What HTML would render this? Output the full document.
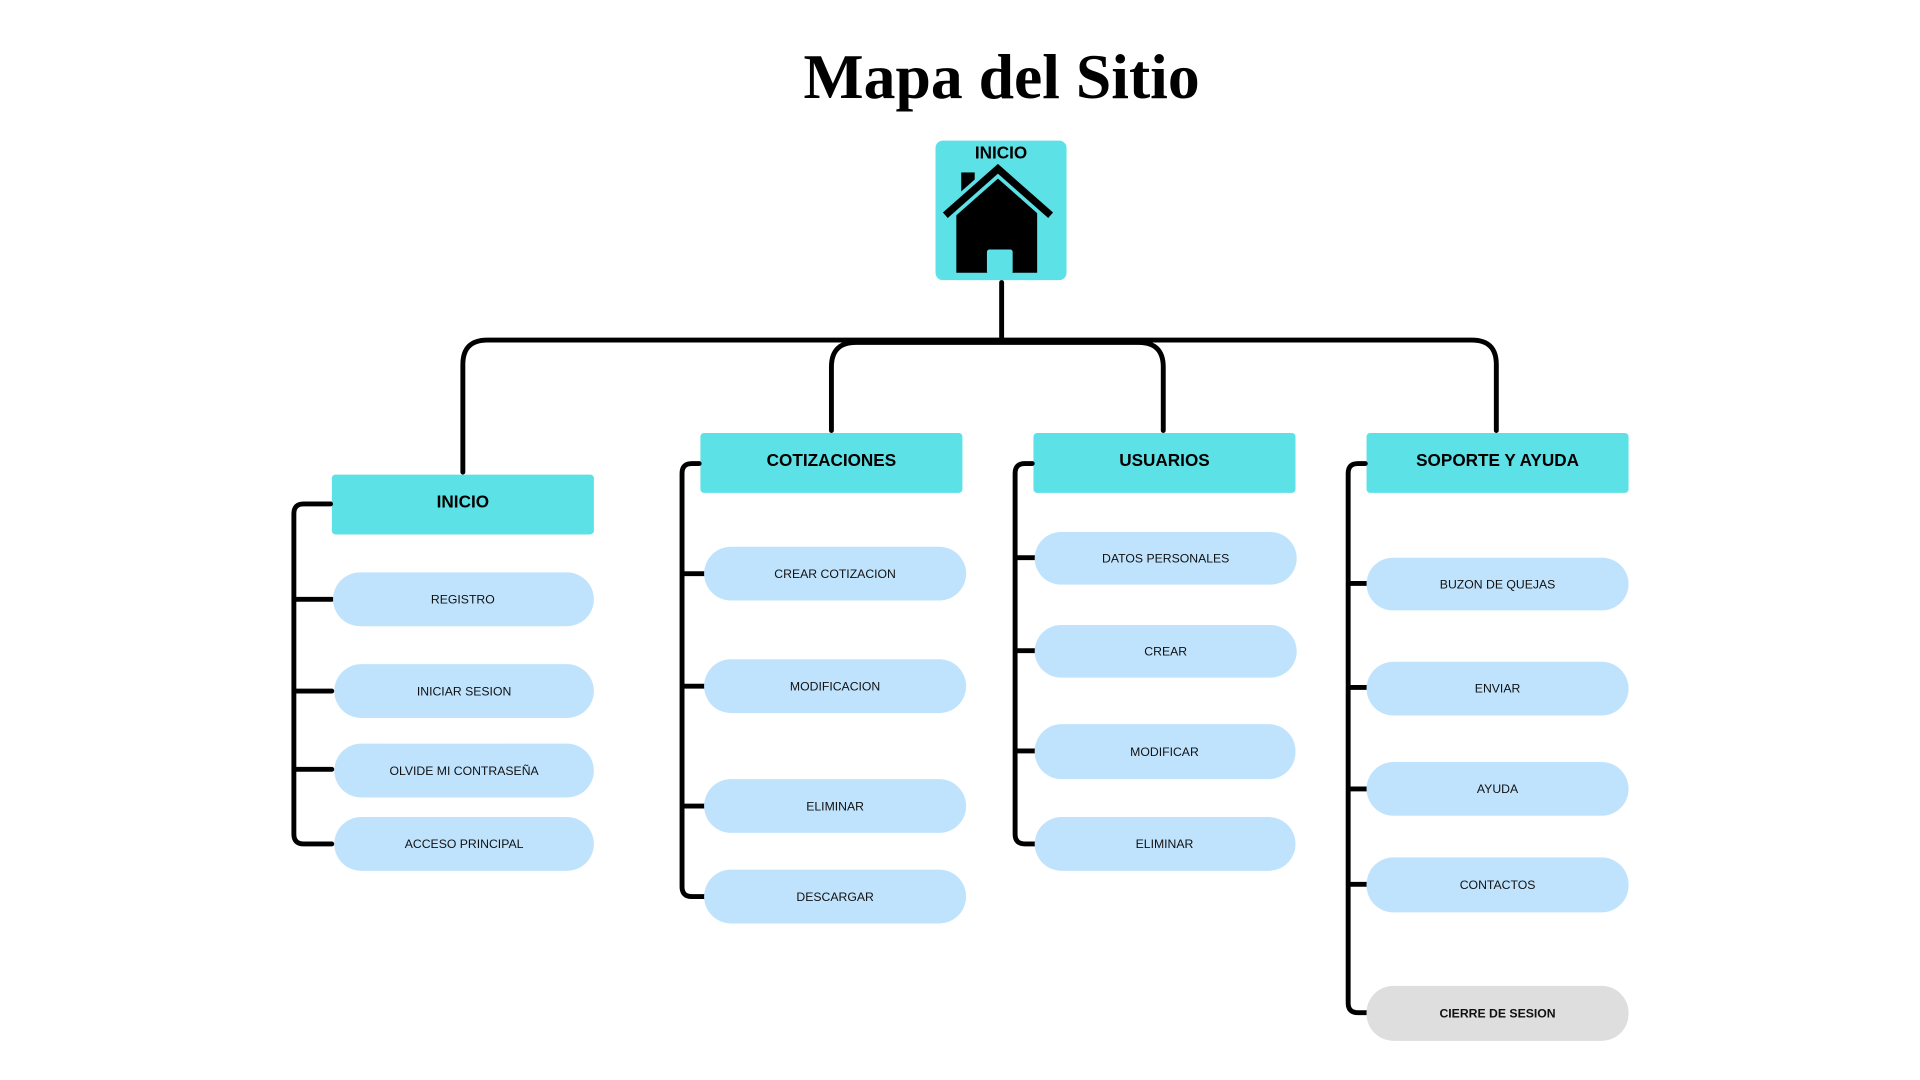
<!DOCTYPE html>
<html><head><meta charset="utf-8"><style>
html,body{margin:0;padding:0;background:#fff;width:1920px;height:1080px;overflow:hidden}
svg{display:block}
.h{font-family:"Liberation Sans",sans-serif;font-weight:bold;font-size:14px;fill:#000;text-anchor:middle}
.p{font-family:"Liberation Sans",sans-serif;font-size:10px;fill:#111;text-anchor:middle}
.ln{fill:none;stroke:#000;stroke-width:4;stroke-linecap:round;stroke-linejoin:round}
</style></head><body>
<svg width="1920" height="1080" viewBox="0 0 1568 883" preserveAspectRatio="none" xmlns="http://www.w3.org/2000/svg">
<text x="818" y="80" font-family="Liberation Serif, serif" font-weight="bold" font-size="52" text-anchor="middle" fill="#000">Mapa del Sitio</text>
<rect x="764" y="115" width="107" height="114" rx="6" fill="#5ce1e6"/>
<text x="817.5" y="129.5" class="h" font-size="11">INICIO</text>
<rect x="785" y="141" width="11" height="17" fill="#000"/>
<polygon points="815,143 781,172 781,223 847,223 847,172" fill="#000"/>
<path d="M772,176 L815,138 L858,176" fill="none" stroke="#5ce1e6" stroke-width="12"/>
<path d="M772,176 L815,138 L858,176" fill="none" stroke="#000" stroke-width="6"/>
<rect x="806" y="204" width="21" height="20" rx="2" fill="#5ce1e6"/>
<path class="ln" d="M818,231 V277"/>
<path class="ln" d="M378,386 V298 Q378,278 398,278 H1202 Q1222,278 1222,298 V352"/>
<path class="ln" d="M679,352 V300 Q679,280 699,280 H930 Q950,280 950,300 V352"/>
<rect x="271" y="388" width="214" height="49" rx="3" fill="#5ce1e6"/>
<text x="378" y="415" class="h">INICIO</text>
<rect x="572" y="354" width="214" height="49" rx="3" fill="#5ce1e6"/>
<text x="679" y="381" class="h">COTIZACIONES</text>
<rect x="844" y="354" width="214" height="49" rx="3" fill="#5ce1e6"/>
<text x="951" y="381" class="h">USUARIOS</text>
<rect x="1116" y="354" width="214" height="49" rx="3" fill="#5ce1e6"/>
<text x="1223" y="381" class="h">SOPORTE Y AYUDA</text>
<path class="ln" d="M270,412 H248 Q240,412 240,420 V682 Q240,690 248,690 H271 M240,490 H271 M240,565 H271 M240,629 H271"/>
<path class="ln" d="M571,379 H565 Q557,379 557,387 V725 Q557,733 565,733 H575 M557,469 H575 M557,561 H575 M557,659 H575"/>
<path class="ln" d="M843,379 H837 Q829,379 829,387 V682 Q829,690 837,690 H845 M829,456 H845 M829,532 H845 M829,614 H845"/>
<path class="ln" d="M1115,379 H1109 Q1101,379 1101,387 V820 Q1101,828 1109,828 H1116 M1101,477 H1116 M1101,562 H1116 M1101,645 H1116 M1101,723 H1116"/>
<g fill="#c0e3fd">
<rect x="272" y="468" width="213" height="44" rx="22"/>
<rect x="273" y="543" width="212" height="44" rx="22"/>
<rect x="273" y="608" width="212" height="44" rx="22"/>
<rect x="273" y="668" width="212" height="44" rx="22"/>
<rect x="575" y="447" width="214" height="44" rx="22"/>
<rect x="575" y="539" width="214" height="44" rx="22"/>
<rect x="575" y="637" width="214" height="44" rx="22"/>
<rect x="575" y="711" width="214" height="44" rx="22"/>
<rect x="845" y="435" width="214" height="43" rx="21.5"/>
<rect x="845" y="511" width="214" height="43" rx="21.5"/>
<rect x="845" y="592" width="213" height="45" rx="22"/>
<rect x="845" y="668" width="213" height="44" rx="22"/>
<rect x="1116" y="456" width="214" height="43" rx="21.5"/>
<rect x="1116" y="541" width="214" height="44" rx="22"/>
<rect x="1116" y="623" width="214" height="44" rx="22"/>
<rect x="1116" y="701" width="214" height="45" rx="22"/>
</g>
<rect x="1116" y="806" width="214" height="45" rx="22" fill="#dedede"/>
<text class="p" x="378" y="493.5">REGISTRO</text>
<text class="p" x="379" y="568.5">INICIAR SESION</text>
<text class="p" x="379" y="633.5">OLVIDE MI CONTRASEÑA</text>
<text class="p" x="379" y="693.5">ACCESO PRINCIPAL</text>
<text class="p" x="682" y="472.5">CREAR COTIZACION</text>
<text class="p" x="682" y="564.5">MODIFICACION</text>
<text class="p" x="682" y="662.5">ELIMINAR</text>
<text class="p" x="682" y="736.5">DESCARGAR</text>
<text class="p" x="952" y="460">DATOS PERSONALES</text>
<text class="p" x="952" y="536">CREAR</text>
<text class="p" x="951" y="618">MODIFICAR</text>
<text class="p" x="951" y="693.5">ELIMINAR</text>
<text class="p" x="1223" y="481">BUZON DE QUEJAS</text>
<text class="p" x="1223" y="566">ENVIAR</text>
<text class="p" x="1223" y="648.5">AYUDA</text>
<text class="p" x="1223" y="727">CONTACTOS</text>
<text class="p" x="1223" y="832" font-weight="bold">CIERRE DE SESION</text>
</svg>
</body></html>
